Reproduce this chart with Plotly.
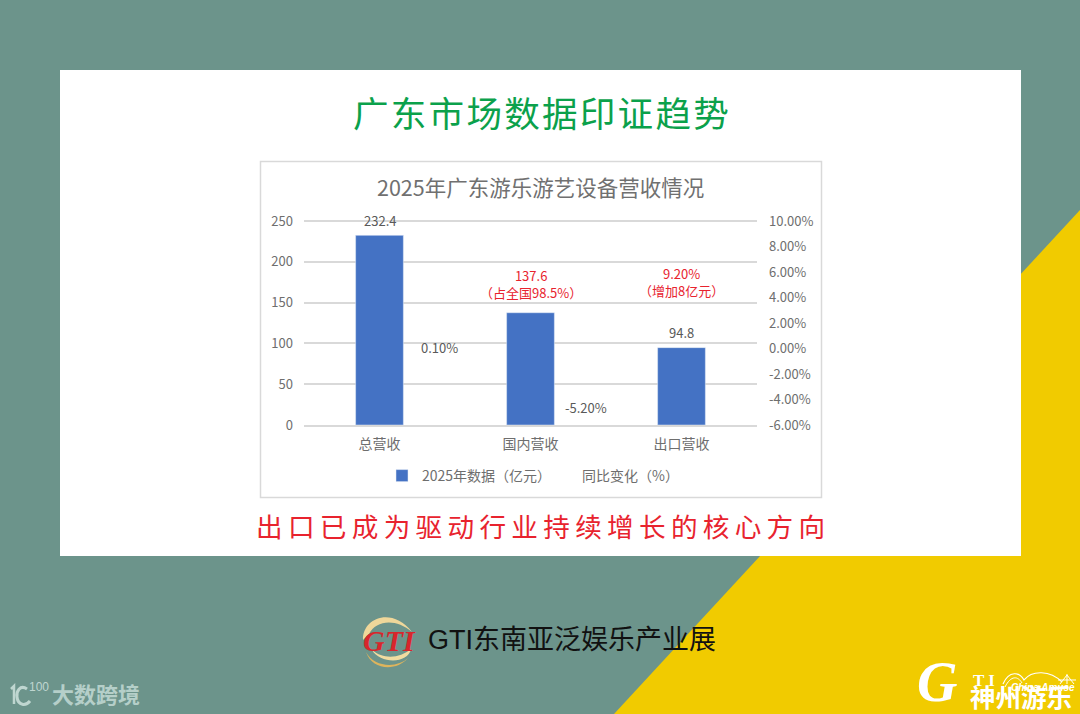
import plotly.graph_objects as go

# 数据
categories = ['总营收', '国内营收', '出口营收']
revenue = [232.4, 137.6, 94.8]
yoy_pct = [0.10, -5.20, 9.20]
revenue_labels = ['232.4', '137.6<br>（占全国98.5%）', '94.8']
yoy_labels = ['0.10%', '-5.20%', '9.20%<br>（增加8亿元）']
revenue_ticks = [0, 50, 100, 150, 200, 250]
yoy_ticks = [-6, -4, -2, 0, 2, 4, 6, 8, 10]
yoy_tick_labels = ['-6.00%', '-4.00%', '-2.00%', '0.00%', '2.00%', '4.00%', '6.00%', '8.00%', '10.00%']

W, H = 1080, 714
CJK = 'Noto Sans CJK SC'
GRAY = '#595959'
TICK = '#6E6E6E'
RED = '#E8232E'
MARK = '#BFD6D0'


# 画布像素转 paper 坐标
def fx(px):
    return px / W


def fy(py):
    return 1 - py / H


def note(text, x, y, size, color, family=CJK, xanchor='center', **kw):
    return dict(text=text, x=fx(x), y=fy(y), xref='paper', yref='paper', showarrow=False,
                xanchor=xanchor, yanchor='middle', font=dict(family=family, size=size, color=color), **kw)


fig = go.Figure()
fig.add_trace(go.Bar(x=categories, y=revenue, name='2025年数据（亿元）', width=0.316,
                     marker=dict(color='#4472C4'), yaxis='y'))
fig.add_trace(go.Scatter(x=categories, y=yoy_pct, name='同比变化（%）', mode='lines',
                         line=dict(color='rgba(0,0,0,0)', width=1), yaxis='y2'))

shapes = [
    dict(type='path', path='M 1080 210 L 614 714 L 1080 714 Z', fillcolor='#F1CB00', line_width=0),
    dict(type='rect', x0=60, x1=1021, y0=70, y1=556, fillcolor='white', line_width=0),
    dict(type='rect', x0=260.5, x1=821.5, y0=161.5, y1=497.5, fillcolor='white',
         line=dict(color='#D9D9D9', width=1.5)),
    # GTI 圆形标志
    dict(type='path', path='M 363 640 C 362 618 392 606 412 632 C 396 618 376 620 369 634 Z',
         fillcolor='#EFD79A', line_width=0),
    dict(type='path', path='M 372 650 C 384 660 400 658 411 649 C 408 664 380 664 372 650 Z',
         fillcolor='#F1DCA0', line_width=0),
    dict(type='path', path='M 366 652 C 374 668 398 668 408 658 C 396 672 372 670 366 652 Z',
         fillcolor='#DDB45C', line_width=0),
    # 左下角水印图形
    dict(type='path', path='M 11 689 L 14 686 L 14 704', line=dict(color=MARK, width=2.5)),
    dict(type='path', path='M 27 689 C 20 684 16 692 17 697 C 18 706 26 706 30 701', line=dict(color=MARK, width=3)),
    # 过山车线条
    dict(type='path', path='M 1003 684 C 1009 670 1020 672 1024 680 C 1032 670 1050 670 1062 682',
         line=dict(color='white', width=1.2)),
    dict(type='path', path='M 1005 687 C 1011 675 1018 676 1022 683',
         line=dict(color='white', width=1)),
    # 摩天轮
    dict(type='path', path='M 1060 684 L 1067 675 M 1067 684 L 1067 674 M 1074 684 L 1067 675 M 1058 680 L 1076 680',
         line=dict(color='white', width=1)),
]
for s in shapes:
    s.update(xref='paper', yref='paper', layer='below')
    if s['type'] == 'rect':
        s['x0'], s['x1'] = fx(s['x0']), fx(s['x1'])
        s['y0'], s['y1'] = fy(s['y0']), fy(s['y1'])
    else:
        parts = s['path'].split()
        out, is_x = [], True
        for p in parts:
            if p.isalpha():
                out.append(p)
            else:
                out.append(f'{fx(float(p)):.5f}' if is_x else f'{fy(float(p)):.5f}')
                is_x = not is_x
        s['path'] = ' '.join(out)

annotations = [
    note('广\u200a东\u200a市\u200a场\u200a数\u200a据\u200a印\u200a证\u200a趋\u200a势', 541, 111, 35.6, '#0BA14B'),
    note('出\u2009口\u2009已\u2009成\u2009为\u2009驱\u2009动\u2009行\u2009业\u2009持\u2009续\u2009增\u2009长\u2009的\u2009核\u2009心\u2009方\u2009向',
         540, 525, 26.6, '#E8232E'),
    note('2025年广东游乐游艺设备营收情况', 540, 187, 21.5, '#707070'),
    note('GTI东南亚泛娱乐产业展', 426, 640, 27, '#111111', family='Liberation Sans, ' + CJK, xanchor='left'),
    note('<b><i>GTI</i></b>', 389, 640, 30, '#D8262C', family='Liberation Serif'),
    note('<b>大数跨境</b>', 50, 693, 22, '#B5CFC9', xanchor='left'),
    note('100', 27, 687, 12, MARK, family='Liberation Sans', xanchor='left'),
    note('<b><i>G</i></b>', 915, 682, 56, 'white', family='Liberation Serif', xanchor='left'),
    note('<b>T I</b>', 971, 680, 17, 'white', family='Liberation Serif', xanchor='left'),
    note('<b>神州游乐</b>', 968, 695, 25.5, 'white', xanchor='left'),
    note('<b><i>China Amuse</i></b>', 1077, 687, 10, 'white', family='Liberation Sans', xanchor='right'),
]

# 柱子标签，国内营收一条单独下移到柱子上方
revenue_shift = [3, 9, 4]
revenue_color = [GRAY, RED, GRAY]
for i in range(3):
    annotations.append(dict(x=categories[i], y=revenue[i], xref='x', yref='y', text=revenue_labels[i],
                            showarrow=False, xanchor='center', yanchor='bottom', yshift=revenue_shift[i],
                            font=dict(family=CJK, size=13, color=revenue_color[i])))

# 同比标签，原图被手动挪开了
yoy_xshift = [60, 55, 0]
yoy_yshift = [0, 7, -51]
yoy_color = [GRAY, GRAY, RED]
for i in range(3):
    annotations.append(dict(x=categories[i], y=yoy_pct[i], xref='x', yref='y2', text=yoy_labels[i],
                            showarrow=False, xanchor='center', yanchor='middle',
                            xshift=yoy_xshift[i], yshift=yoy_yshift[i],
                            font=dict(family=CJK, size=13, color=yoy_color[i])))

fig.update_layout(
    width=W,
    height=H,
    margin=dict(l=0, r=0, t=0, b=0, autoexpand=False),
    paper_bgcolor='#6C948B',
    plot_bgcolor='rgba(0,0,0,0)',
    font=dict(family=CJK, color=GRAY, size=13),
    shapes=shapes,
    annotations=annotations,
    xaxis=dict(domain=[fx(304), fx(757)], range=[-0.5, 2.5], type='category', showgrid=False,
               linecolor='#D9D9D9', linewidth=1.5, ticks='', ticklabelstandoff=5,
               tickfont=dict(size=14, color=TICK)),
    # 顶部多留 2px，否则 plotly 会去掉 250 那条网格线
    yaxis=dict(range=[0, 252.45], tickvals=revenue_ticks, domain=[fy(425), fy(219)], anchor='x',
               gridcolor='#D9D9D9', gridwidth=1.5, zeroline=False, showline=False, ticks='',
               ticklabelstandoff=10, tickfont=dict(size=13, color=TICK)),
    yaxis2=dict(range=[-6, 10.157], tickvals=yoy_ticks, ticktext=yoy_tick_labels, overlaying='y',
                side='right', anchor='x', showgrid=False, zeroline=False, showline=False, ticks='',
                ticklabelstandoff=11, tickfont=dict(size=13, color=TICK)),
    legend=dict(orientation='h', x=fx(382), y=fy(476), xanchor='left', yanchor='middle',
                bgcolor='rgba(0,0,0,0)', font=dict(size=14, color=TICK), itemwidth=30,
                entrywidth=115, entrywidthmode='pixels'),
)

fig.write_html('out.html', config={'displayModeBar': False},
               post_script="document.body.style.margin='0';document.body.style.overflow='hidden';")
